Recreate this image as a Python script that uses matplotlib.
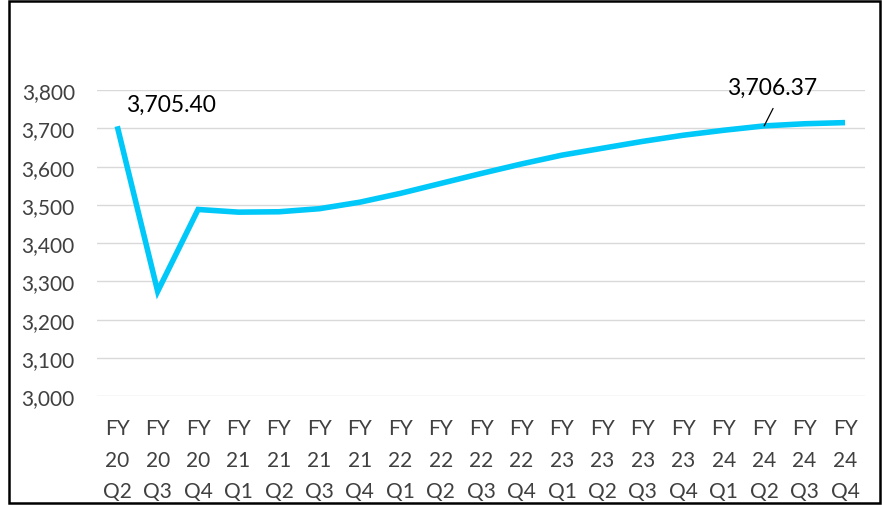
import matplotlib
matplotlib.use("Agg")
import matplotlib.pyplot as plt
from matplotlib.patches import Rectangle

categories = ["FY\n20\nQ2", "FY\n20\nQ3", "FY\n20\nQ4", "FY\n21\nQ1", "FY\n21\nQ2", "FY\n21\nQ3",
              "FY\n21\nQ4", "FY\n22\nQ1", "FY\n22\nQ2", "FY\n22\nQ3", "FY\n22\nQ4", "FY\n23\nQ1",
              "FY\n23\nQ2", "FY\n23\nQ3", "FY\n23\nQ4", "FY\n24\nQ1", "FY\n24\nQ2", "FY\n24\nQ3",
              "FY\n24\nQ4"]
values = [3705.40, 3274, 3488, 3481, 3482, 3490, 3507, 3530, 3556, 3582, 3607, 3630,
          3648, 3666, 3682, 3695, 3706.37, 3712, 3715]
yticks = [3000, 3100, 3200, 3300, 3400, 3500, 3600, 3700, 3800]

plt.rcParams['font.family'] = ['Lato', 'DejaVu Sans']

fig = plt.figure(figsize=(8.82, 5.06), dpi=100)
ax = fig.add_axes([0.110, 0.215, 0.871, 0.605])
x = list(range(len(values)))
ax.plot(x, values, color="#00C8F8", lw=4.0, solid_capstyle="butt", solid_joinstyle="miter", zorder=3)
ax.set_xlim(-0.5, len(values) - 0.5)
ax.set_ylim(3000, 3800)
ax.set_yticks(yticks)
ax.set_yticklabels([f"{v:,}" for v in yticks])
ax.set_xticks(x)
ax.set_xticklabels(categories, linespacing=1.7)
ax.grid(axis="y", color="#D9D9D9", lw=1)
ax.set_axisbelow(True)
for s in ax.spines.values():
    s.set_visible(False)
ax.tick_params(axis="both", length=0, labelsize=15, colors="#404040")
ax.tick_params(axis="y", pad=16)
ax.tick_params(axis="x", pad=16)

ax.annotate("3,705.40", xy=(x[0], values[0]), xytext=(x[0] + 0.22, 3762), fontsize=16.5,
            color="black", ha="left", va="center", annotation_clip=False)
# leader line for the second label
ax.annotate("", xy=(x[16], values[16]), xytext=(x[16] + 0.22, 3752), annotation_clip=False,
            arrowprops=dict(arrowstyle="-", color="black", lw=0.9, shrinkA=0, shrinkB=0))
ax.text(x[16] + 0.2, 3808, "3,706.37", fontsize=16.5, color="black", ha="center", va="center",
        clip_on=False)

fig.patches.append(Rectangle((0.0105, 0.004), 0.987, 0.992, transform=fig.transFigure,
                             fill=False, edgecolor="black", lw=1.8))
fig.savefig("out.png", dpi=100)
